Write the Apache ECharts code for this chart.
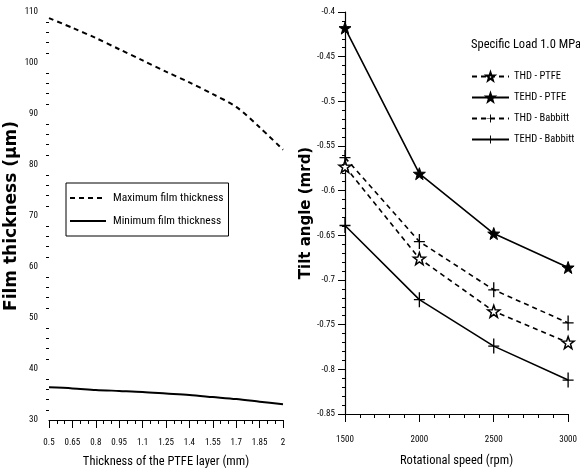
<!DOCTYPE html>
<html>
<head>
<meta charset="utf-8">
<script src="https://cdn.jsdelivr.net/npm/echarts@6/dist/echarts.min.js"></script>
<style>html,body{margin:0;padding:0;background:#fff;}#c{width:580px;height:475px;}</style>
</head>
<body>
<div id="c"></div>
<script>
// ---- Left panel data ----
var thicknessTicks = ['0.5','0.55','0.6','0.65','0.7','0.75','0.8','0.85','0.9','0.95','1','1.05','1.1','1.15','1.2','1.25','1.3','1.35','1.4','1.45','1.5','1.55','1.6','1.65','1.7','1.75','1.8','1.85','1.9','1.95','2'];
var thickness = ['0.5','0.65','0.8','0.95','1.1','1.25','1.4','1.55','1.7','1.85','2'];
var maxFilm = [108.8, 106.9, 104.9, 102.7, 100.5, 98.3, 96.2, 93.9, 91.4, 87.4, 83.0];
var minFilm = [36.4, 36.2, 35.9, 35.7, 35.5, 35.2, 34.9, 34.5, 34.1, 33.6, 33.1];

// ---- Right panel data ----
var rpm = [1500, 2000, 2500, 3000];
var thdPtfe = [-0.573, -0.676, -0.735, -0.770];
var tehdPtfe = [-0.418, -0.581, -0.648, -0.686];
var thdBabbitt = [-0.563, -0.657, -0.711, -0.748];
var tehdBabbitt = [-0.639, -0.722, -0.774, -0.812];

function pairs(xs, ys){ return xs.map(function(x,i){ return [x, ys[i]]; }); }

var NARROW = "'Roboto Condensed', 'DejaVu Sans Condensed', sans-serif";
var BOLD = "'DejaVu Sans', 'Liberation Sans', sans-serif";
var STAR = 'path://M0,-10 L2.35,-3.24 9.51,-3.09 3.8,1.24 5.88,8.09 0,4 -5.88,8.09 -3.8,1.24 -9.51,-3.09 -2.35,-3.24 Z';
var PLUS = 'path://M-0.6,-7 L0.6,-7 L0.6,-0.6 L5,-0.6 L5,0.6 L0.6,0.6 L0.6,7 L-0.6,7 L-0.6,0.6 L-5,0.6 L-5,-0.6 L-0.6,-0.6 Z';

var tickLbl = {fontFamily: NARROW, fontSize: 9, color: '#000'};
var axisLine = {lineStyle: {color: '#000', width: 1.2}};

var chart = echarts.init(document.getElementById('c'), null, {renderer: 'canvas'});
chart.setOption({
  animation: false,
  backgroundColor: '#fff',
  title: {
    text: 'Specific Load 1.0 MPa',
    left: 471, top: 38,
    padding: 0,
    textStyle: {fontFamily: NARROW, fontSize: 12.5, fontWeight: 'normal', color: '#000'}
  },
  legend: [{
    data: ['Maximum film thickness', 'Minimum film thickness'],
    orient: 'vertical',
    left: 66, top: 183,
    padding: [9, 5, 9, 3],
    itemWidth: 36, itemHeight: 10, itemGap: 11,
    borderColor: '#000', borderWidth: 1,
    itemStyle: {opacity: 0},
    textStyle: {fontFamily: NARROW, fontSize: 11.5, color: '#000', padding: [0, 0, 0, 2]}
  }, {
    data: ['THD - PTFE', 'TEHD - PTFE', 'THD - Babbitt', 'TEHD - Babbitt'],
    orient: 'vertical',
    left: 471, top: 71,
    padding: 0,
    itemWidth: 37, itemHeight: 10, itemGap: 10,
    textStyle: {fontFamily: NARROW, fontSize: 10.5, color: '#000'}
  }],
  grid: [
    {left: 49, right: 297, top: 12, bottom: 55},
    {left: 345, right: 4, top: 12, bottom: 61}
  ],
  xAxis: [{
    type: 'category', gridIndex: 0, data: thicknessTicks, boundaryGap: false,
    axisLine: axisLine,
    axisTick: {interval: 2, length: 8, lineStyle: {color: '#000'}},
    axisLabel: Object.assign({interval: 2, margin: 18}, tickLbl),
    splitLine: {show: false},
    name: 'Thickness of the PTFE layer (mm)', nameLocation: 'middle', nameGap: 35,
    nameTextStyle: {fontFamily: NARROW, fontSize: 12.5, color: '#000'}
  }, {
    type: 'category', gridIndex: 0, data: thicknessTicks, boundaryGap: false, position: 'bottom',
    axisLine: {show: false},
    axisTick: {interval: 0, length: 4, lineStyle: {color: '#000'}},
    axisLabel: {show: false},
    splitLine: {show: false}
  }, {
    type: 'value', gridIndex: 1, min: 1500, max: 3000, interval: 500,
    axisLine: axisLine,
    axisTick: {length: 8, lineStyle: {color: '#000'}},
    minorTick: {show: true, splitNumber: 5, length: 4, lineStyle: {color: '#000'}},
    axisLabel: Object.assign({margin: 21, formatter: function(v){ return String(v); }}, tickLbl),
    splitLine: {show: false},
    name: 'Rotational speed (rpm)', nameLocation: 'middle', nameGap: 40,
    nameTextStyle: {fontFamily: NARROW, fontSize: 12.5, color: '#000'}
  }],
  yAxis: [{
    type: 'value', gridIndex: 0, min: 30, max: 110, interval: 10,
    axisLine: axisLine,
    axisTick: {length: 7, lineStyle: {color: '#000'}},
    minorTick: {show: true, splitNumber: 5, length: 3, lineStyle: {color: '#000'}},
    axisLabel: Object.assign({margin: 11}, tickLbl),
    splitLine: {show: false},
    name: 'Film thickness (μm)', nameLocation: 'middle', nameGap: 29,
    nameTextStyle: {fontFamily: BOLD, fontSize: 17, fontWeight: 'bold', color: '#000'}
  }, {
    type: 'value', gridIndex: 1, min: -0.85, max: -0.4, interval: 0.05,
    axisLine: axisLine,
    axisTick: {length: 7, lineStyle: {color: '#000'}},
    minorTick: {show: true, splitNumber: 5, length: 3, lineStyle: {color: '#000'}},
    axisLabel: Object.assign({margin: 10}, tickLbl),
    splitLine: {show: false},
    name: 'Tilt angle (mrd)', nameLocation: 'middle', nameGap: 29,
    nameTextStyle: {fontFamily: BOLD, fontSize: 15, fontWeight: 'bold', color: '#000'}
  }],
  series: [{
    name: 'Maximum film thickness', type: 'line', xAxisIndex: 0, yAxisIndex: 0,
    data: pairs(thickness, maxFilm), smooth: 0.3, showSymbol: false, symbol: 'none',
    lineStyle: {color: '#000', width: 2, type: [5, 4]}, itemStyle: {color: '#000'}
  }, {
    name: 'Minimum film thickness', type: 'line', xAxisIndex: 0, yAxisIndex: 0,
    data: pairs(thickness, minFilm), smooth: 0.3, showSymbol: false, symbol: 'none',
    lineStyle: {color: '#000', width: 2}, itemStyle: {color: '#000'}
  }, {
    name: 'THD - PTFE', type: 'line', xAxisIndex: 2, yAxisIndex: 1,
    data: pairs(rpm, thdPtfe), symbol: STAR, symbolSize: 12,
    lineStyle: {color: '#000', width: 1.6, type: [5, 4]},
    itemStyle: {color: '#fff', borderColor: '#000', borderWidth: 1.5}
  }, {
    name: 'TEHD - PTFE', type: 'line', xAxisIndex: 2, yAxisIndex: 1,
    data: pairs(rpm, tehdPtfe), symbol: STAR, symbolSize: 12,
    lineStyle: {color: '#000', width: 1.6},
    itemStyle: {color: '#000', borderColor: '#000', borderWidth: 1}
  }, {
    name: 'THD - Babbitt', type: 'line', xAxisIndex: 2, yAxisIndex: 1,
    data: pairs(rpm, thdBabbitt), symbol: PLUS, symbolSize: [11, 15],
    lineStyle: {color: '#000', width: 1.6, type: [5, 4]},
    itemStyle: {color: '#000', borderWidth: 0}
  }, {
    name: 'TEHD - Babbitt', type: 'line', xAxisIndex: 2, yAxisIndex: 1,
    data: pairs(rpm, tehdBabbitt), symbol: PLUS, symbolSize: [11, 15],
    lineStyle: {color: '#000', width: 1.6},
    itemStyle: {color: '#000', borderWidth: 0}
  }]
});
</script>
</body>
</html>
